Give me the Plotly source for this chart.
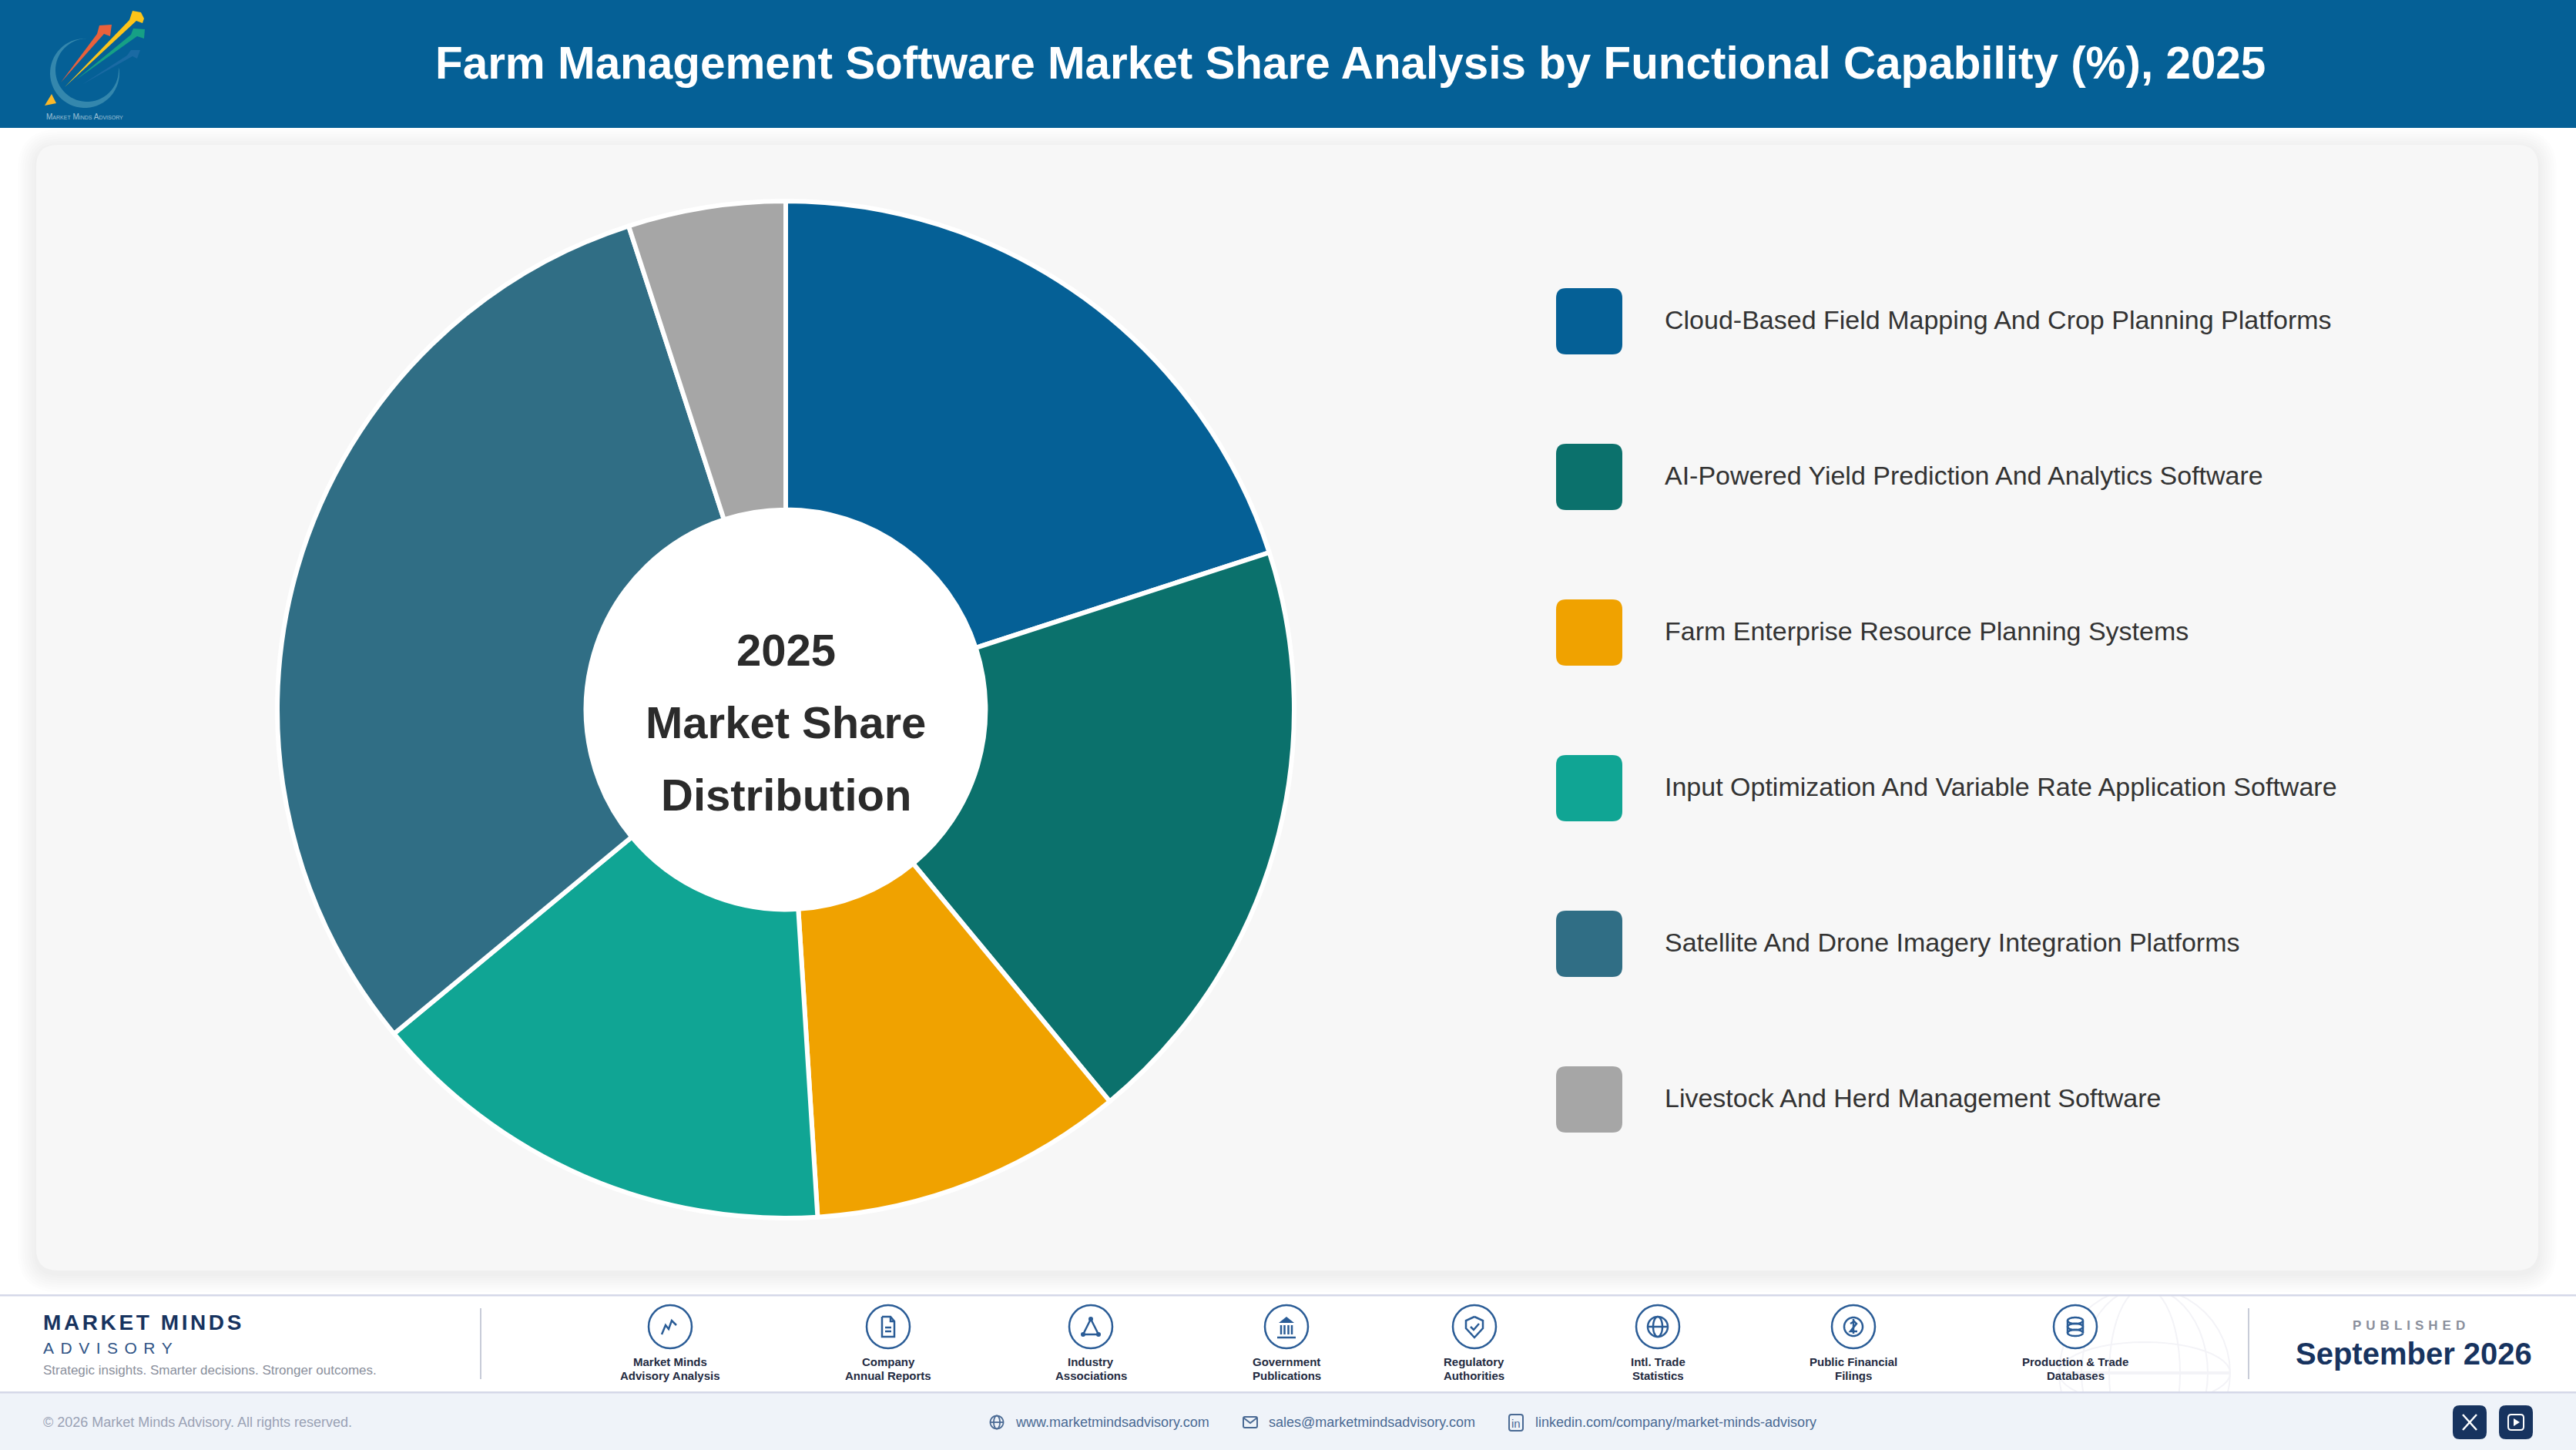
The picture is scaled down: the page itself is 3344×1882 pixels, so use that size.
import math

import plotly.graph_objects as go

W = 3344
H = 1882

title = "Farm Management Software Market Share Analysis by Functional Capability (%), 2025"
categories = [
    "Cloud-Based Field Mapping And Crop Planning Platforms",
    "AI-Powered Yield Prediction And Analytics Software",
    "Farm Enterprise Resource Planning Systems",
    "Input Optimization And Variable Rate Application Software",
    "Satellite And Drone Imagery Integration Platforms",
    "Livestock And Herd Management Software",
]
shares = [20, 19, 10, 15, 31, 5]
colors = ["#056096", "#0b716c", "#f0a200", "#10a594", "#306e85", "#a6a6a6"]
center_lines = ["2025", "Market Share", "Distribution"]

source_labels = [
    ["Market Minds", "Advisory Analysis"],
    ["Company", "Annual Reports"],
    ["Industry", "Associations"],
    ["Government", "Publications"],
    ["Regulatory", "Authorities"],
    ["Intl. Trade", "Statistics"],
    ["Public Financial", "Filings"],
    ["Production & Trade", "Databases"],
]
source_x = [870, 1153, 1416, 1670, 1914, 2152, 2406, 2694]

NAVY = "#17335f"
ICON = "#2a5c96"
FONT = "Liberation Sans"


def fx(x):
    return x / W


def fy(y):
    return 1 - y / H


def poly(points, closed=False):
    d = "M" + " L".join(f"{fx(x):.5f},{fy(y):.5f}" for x, y in points)
    return d + (" Z" if closed else "")


def rounded(x0, y0, x1, y1, r):
    c = lambda x, y: f"{fx(x):.5f},{fy(y):.5f}"
    return (
        f"M{c(x0 + r, y0)} L{c(x1 - r, y0)} Q{c(x1, y0)} {c(x1, y0 + r)} "
        f"L{c(x1, y1 - r)} Q{c(x1, y1)} {c(x1 - r, y1)} L{c(x0 + r, y1)} "
        f"Q{c(x0, y1)} {c(x0, y1 - r)} L{c(x0, y0 + r)} Q{c(x0, y0)} {c(x0 + r, y0)} Z"
    )


def ellipse_pts(cx, cy, rx, ry, a0=0, a1=360, n=48):
    return [
        (cx + rx * math.cos(math.radians(a0 + (a1 - a0) * i / n)),
         cy + ry * math.sin(math.radians(a0 + (a1 - a0) * i / n)))
        for i in range(n + 1)
    ]


shapes = []
annotations = []


def rect(x0, y0, x1, y1, color):
    shapes.append(dict(type="rect", xref="paper", yref="paper", x0=fx(x0), x1=fx(x1),
                       y0=fy(y1), y1=fy(y0), fillcolor=color, line_width=0, layer="below"))


def path(d, fill=None, line=None, width=0, opacity=1):
    shapes.append(dict(type="path", xref="paper", yref="paper", path=d, layer="below",
                       fillcolor=fill or "rgba(0,0,0,0)", opacity=opacity,
                       line=dict(color=line or "rgba(0,0,0,0)", width=width)))


def circle(cx, cy, r, fill=None, line=None, width=0):
    shapes.append(dict(type="circle", xref="paper", yref="paper", layer="below",
                       x0=fx(cx - r), x1=fx(cx + r), y0=fy(cy + r), y1=fy(cy - r),
                       fillcolor=fill or "rgba(0,0,0,0)",
                       line=dict(color=line or "rgba(0,0,0,0)", width=width)))


def text(x, y, s, size, color, anchor="left", bold=False, **font_extra):
    annotations.append(dict(
        xref="paper", yref="paper", x=fx(x), y=fy(y), text=s, showarrow=False,
        xanchor=anchor, yanchor="middle", align=anchor, borderpad=0,
        font=dict(family=FONT, size=size, color=color, weight=700 if bold else 400, **font_extra),
    ))


# background pieces
rect(0, 0, W, 166, "#056096")
# globe watermark sits behind the footer strip
for pts in [ellipse_pts(2784, 1782, 111, 111), ellipse_pts(2784, 1782, 46, 111),
            ellipse_pts(2784, 1782, 82, 111), ellipse_pts(2784, 1782, 111, 40)]:
    path(poly(pts), line="#f3f3f7", width=2)
path(poly([(2673, 1782), (2895, 1782)]), line="#f3f3f7", width=4)
rect(0, 166, W, 1680, "#ffffff")
rect(0, 1807, W, H, "#eff3f9")
rect(0, 1680, W, 1682.5, "#d5d8e8")
rect(0, 1806, W, 1808.5, "#d5d8e8")

# card with a soft shadow
for grow in range(24, 0, -3):
    path(rounded(47 - grow, 188 - grow + 4, 3295 + grow, 1649 + grow + 4, 28 + grow),
         fill="#000000", opacity=0.008)
path(rounded(47, 188, 3295, 1649, 28), fill="#f7f7f7")
circle(1020, 921, 262, fill="#ffffff")

# legend
for i, (name, color) in enumerate(zip(categories, colors)):
    top = 374 + i * 202
    path(rounded(2020, top, 2106, top + 86, 13), fill=color)
    text(2160, top + 41, name, 34, "#333333")

# centre of the ring
for line_y, s in zip([843, 937, 1031], center_lines):
    text(1020, line_y, s, 58, "#2b2b2b", anchor="center", bold=True)

# header
text(1753, 81, title, 58.4, "#ffffff", anchor="center", bold=True)

# logo
path(poly(ellipse_pts(110, 95, 45, 45, -5, 270) + ellipse_pts(113, 91, 41, 41, 270, -5)),
     fill="#3487ad")
path(poly([(79, 107), (126, 44), (129, 33), (145, 32), (143, 47), (135, 44)], True), fill="#e8613c")
path(poly([(106, 110), (165, 72), (170, 65), (182, 65), (178, 76), (172, 73)], True), fill="#1a6aa3")
path(poly([(98, 104), (170, 45), (173, 37), (188, 38), (187, 50), (178, 47)], True), fill="#16a085")
path(poly([(84, 113), (168, 26), (172, 14), (183, 16), (187, 24), (185, 30), (177, 27)], True), fill="#fcc419")
path(poly([(58, 137), (67, 122), (73, 134)], True), fill="#fbb829")
text(110, 151, "Market Minds Advisory", 10, "#9fc2d6", anchor="center", variant="small-caps")

# footer left
text(55, 1716, "MARKET MINDS", 28, NAVY, bold=True)
text(55, 1749, "ADVISORY", 21, "#2f5486")
text(55, 1778, "Strategic insights. Smarter decisions. Stronger outcomes.", 17, "#8a8f9c")
rect(623, 1698, 625, 1790, "#c8ccd8")
rect(2918, 1698, 2920, 1790, "#c8ccd8")

# footer sources
icons = {
    0: [[(-11, 10), (-6, -2), (-2, 3), (2, -8), (8, -2)]],
    1: [[(-8, -13), (3, -13), (8, -7), (8, 13), (-8, 13), (-8, -13)], [(3, -13), (3, -7), (8, -7)],
        [(-4, 1), (4, 1)], [(-4, 6), (4, 6)]],
    2: [[(0, -10), (-10, 10), (10, 10), (0, -10)]],
    3: [[(-12, 14), (12, 14)], [(-7, -2), (-7, 10)], [(-2.5, -2), (-2.5, 10)], [(2.5, -2), (2.5, 10)],
        [(7, -2), (7, 10)]],
    4: [[(0, -13), (11, -8), (11, 2), (0, 14), (-11, 2), (-11, -8), (0, -13)], [(-5, 0), (-1, 4), (6, -4)]],
    5: [ellipse_pts(0, 0, 13, 13), ellipse_pts(0, 0, 6, 13), [(-13, 0), (13, 0)]],
    6: [ellipse_pts(0, 0, 12, 12), [(-4, -4), (1, -7), (4, -4), (-4, 6), (5, 6)], [(0, -10), (0, 9)]],
    7: [ellipse_pts(0, -8, 10, 4), ellipse_pts(0, 0, 10, 4), ellipse_pts(0, 8, 10, 4),
        [(-10, -8), (-10, 8)], [(10, -8), (10, 8)]],
}
for i, (cx, lines) in enumerate(zip(source_x, source_labels)):
    circle(cx, 1722, 28, fill="#ffffff", line=ICON, width=2.5)
    for pts in icons[i]:
        path(poly([(cx + a, 1722 + b) for a, b in pts]), line=ICON, width=2.5)
    text(cx, 1767, lines[0], 15, "#232a3f", anchor="center", bold=True)
    text(cx, 1785, lines[1], 15, "#232a3f", anchor="center", bold=True)
    if i == 2:
        for a, b in [(0, -10), (-10, 10), (10, 10)]:
            circle(cx + a, 1722 + b, 3, fill=ICON)
    if i == 3:
        path(poly([(cx, 1722 - 13), (cx + 10, 1722 - 5), (cx - 10, 1722 - 5)], True), fill=ICON)

text(3130, 1720, "PUBLISHED", 17, "#8a8f9c", anchor="center", bold=True)
text(3133, 1757, "September 2026", 40, NAVY, anchor="center", bold=True)

# bottom strip
text(55, 1846, "© 2026 Market Minds Advisory. All rights reserved.", 18, "#9aa2b5")
LINK = "#4a6a94"
text(1317, 1846, "www.marketmindsadvisory.com", 18, LINK)
text(1646, 1846, "sales@marketmindsadvisory.com", 18, LINK)
text(1992, 1846, "linkedin.com/company/market-minds-advisory", 18, LINK)
for pts in [ellipse_pts(1294, 1846, 8.5, 8.5), ellipse_pts(1294, 1846, 4, 8.5), [(1285.5, 1846), (1302.5, 1846)]]:
    path(poly(pts), line=LINK, width=1.8)
path(rounded(1614, 1839, 1632, 1853, 2), line=LINK, width=2)
path(poly([(1614, 1840), (1623, 1847), (1632, 1840)]), line=LINK, width=2)
path(rounded(1959, 1836, 1977, 1857, 3), line=LINK, width=2)
text(1968, 1847, "in", 15, LINK, anchor="center")

path(rounded(3184, 1824, 3228, 1868, 9), fill=NAVY)
path(rounded(3244, 1824, 3288, 1868, 9), fill=NAVY)
path(poly([(3197, 1836), (3215, 1856)]), line="#ffffff", width=2.5)
path(poly([(3215, 1836), (3197, 1856)]), line="#ffffff", width=2.5)
path(rounded(3256, 1836, 3276, 1856, 4), line="#ffffff", width=2)
path(poly([(3263, 1841), (3271, 1846), (3263, 1851)], True), fill="#ffffff")

fig = go.Figure(go.Pie(
    labels=categories,
    values=shares,
    sort=False,
    direction="clockwise",
    rotation=0,
    hole=0.393,
    marker=dict(colors=colors, line=dict(color="#ffffff", width=6)),
    textinfo="none",
    hoverinfo="label+percent",
    domain=dict(x=[fx(1020 - 660), fx(1020 + 660)], y=[fy(921 + 660), fy(921 - 660)]),
))
fig.update_layout(
    width=W,
    height=H,
    margin=dict(l=0, r=0, t=0, b=0),
    paper_bgcolor="#ffffff",
    showlegend=False,
    shapes=shapes,
    annotations=annotations,
)

# plotly has no letter spacing option and the page body keeps its default margin
post = """
document.body.style.margin = '0';
var spacing = {'MARKET MINDS': '3.6px', 'ADVISORY': '8.5px', 'PUBLISHED': '6px'};
document.querySelectorAll('.annotation-text').forEach(function (t) {
    if (spacing[t.textContent]) { t.style.letterSpacing = spacing[t.textContent]; }
});
"""
fig.write_html("out.html", post_script=post, config={"displayModeBar": False})
